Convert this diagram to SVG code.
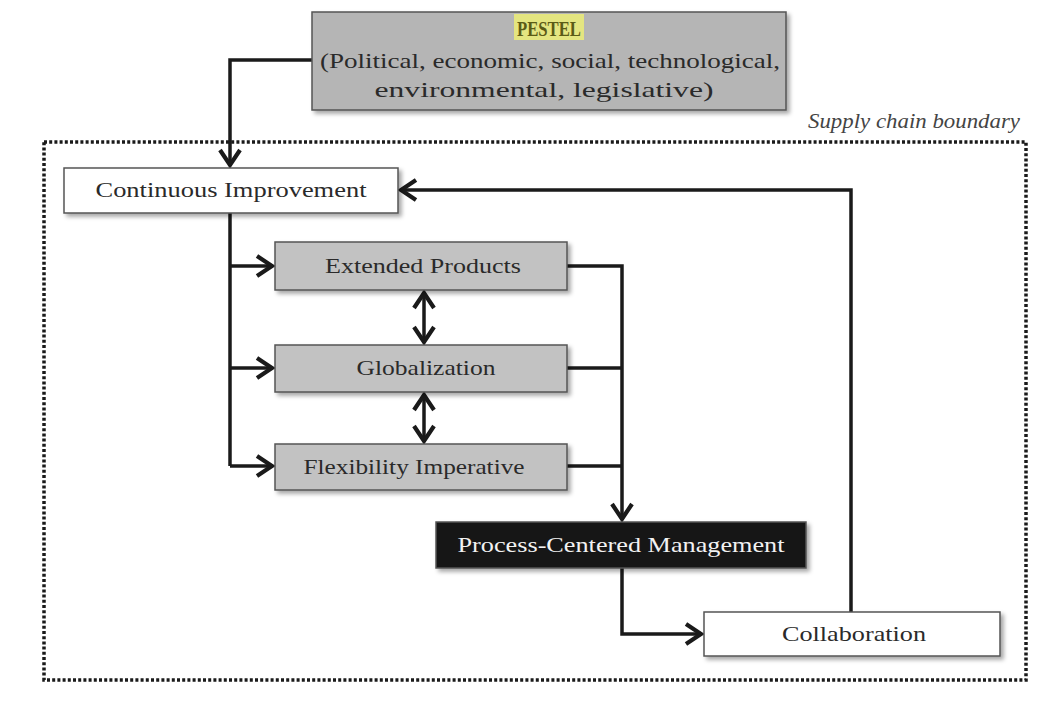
<svg xmlns="http://www.w3.org/2000/svg" width="1044" height="711" viewBox="0 0 1044 711">
<defs>
<filter id="sh" x="-5%" y="-10%" width="115%" height="140%">
<feDropShadow dx="3" dy="3" stdDeviation="2" flood-color="#000" flood-opacity="0.35"/>
</filter>
<marker id="ah" viewBox="0 0 20 24" refX="18" refY="12" markerWidth="20" markerHeight="24" markerUnits="userSpaceOnUse" orient="auto-start-reverse">
<path d="M2,2 L17,12 L2,22" fill="none" stroke="#1a1a1a" stroke-width="4.2" stroke-linejoin="miter"/>
</marker>
<style>
.box{stroke:#555;stroke-width:1.5;filter:url(#sh)}
.white{fill:#fff}
.gray{fill:#c2c2c2}
.pest{fill:#b5b5b5}
.dark{fill:#141414}
.t{font-family:"Liberation Serif","Times New Roman",serif;font-size:21px;fill:#2a2a2a;text-anchor:middle}
.tw{fill:#f2f2f2}
.c{fill:none;stroke:#1a1a1a;stroke-width:3.5}
</style>
</defs>
<rect width="1044" height="711" fill="#fff"/>

<g id="boundary">
<rect x="44" y="142" width="982" height="538" fill="none" stroke="#1a1a1a" stroke-width="3.5" stroke-dasharray="3 2.2"/>
<text x="1020" y="128" class="t" style="font-style:italic;text-anchor:end;fill:#444" textLength="212" lengthAdjust="spacingAndGlyphs">Supply chain boundary</text>
</g>

<g id="connectors">
<path class="c" d="M312,60 H230 V166" marker-end="url(#ah)"/>
<path class="c" d="M851,612 V190 H400" marker-end="url(#ah)"/>
<path class="c" d="M230,213 V466"/>
<path class="c" d="M230,266 H273" marker-end="url(#ah)"/>
<path class="c" d="M230,368 H273" marker-end="url(#ah)"/>
<path class="c" d="M230,466 H273" marker-end="url(#ah)"/>
<path class="c" d="M424,292 V343" marker-start="url(#ah)" marker-end="url(#ah)"/>
<path class="c" d="M424,394 V442" marker-start="url(#ah)" marker-end="url(#ah)"/>
<path class="c" d="M567,266 H622 V520" marker-end="url(#ah)"/>
<path class="c" d="M567,368 H622"/>
<path class="c" d="M567,466 H622"/>
<path class="c" d="M622,568 V634 H702" marker-end="url(#ah)"/>
</g>

<g id="pestel">
<rect class="box pest" x="312" y="12" width="474" height="98"/>
<rect x="514" y="14" width="70" height="26" fill="#e9ea7a" opacity="0.9"/>
<text x="549" y="36" class="t" style="font-weight:bold;fill:#5b5b16;font-size:21px" textLength="64" lengthAdjust="spacingAndGlyphs">PESTEL</text>
<text x="550" y="68" class="t" textLength="460" lengthAdjust="spacingAndGlyphs">(Political, economic, social, technological,</text>
<text x="544" y="97" class="t" textLength="339" lengthAdjust="spacingAndGlyphs">environmental, legislative)</text>
</g>

<g id="continuous-improvement">
<rect class="box white" x="64" y="168" width="334" height="45"/>
<text x="231" y="197" class="t" textLength="271" lengthAdjust="spacingAndGlyphs">Continuous Improvement</text>
</g>

<g id="extended-products">
<rect class="box gray" x="275" y="242" width="292" height="48"/>
<text x="423" y="273" class="t" textLength="196" lengthAdjust="spacingAndGlyphs">Extended Products</text>
</g>

<g id="globalization">
<rect class="box gray" x="275" y="345" width="292" height="47"/>
<text x="426" y="375" class="t" textLength="139" lengthAdjust="spacingAndGlyphs">Globalization</text>
</g>

<g id="flexibility-imperative">
<rect class="box gray" x="275" y="444" width="292" height="46"/>
<text x="414" y="474" class="t" textLength="221" lengthAdjust="spacingAndGlyphs">Flexibility Imperative</text>
</g>

<g id="process-centered-management">
<rect class="box dark" x="436" y="522" width="370" height="46"/>
<text x="621" y="552" class="t tw" textLength="327" lengthAdjust="spacingAndGlyphs">Process-Centered Management</text>
</g>

<g id="collaboration">
<rect class="box white" x="704" y="612" width="296" height="44"/>
<text x="854" y="641" class="t" textLength="144" lengthAdjust="spacingAndGlyphs">Collaboration</text>
</g>
</svg>
